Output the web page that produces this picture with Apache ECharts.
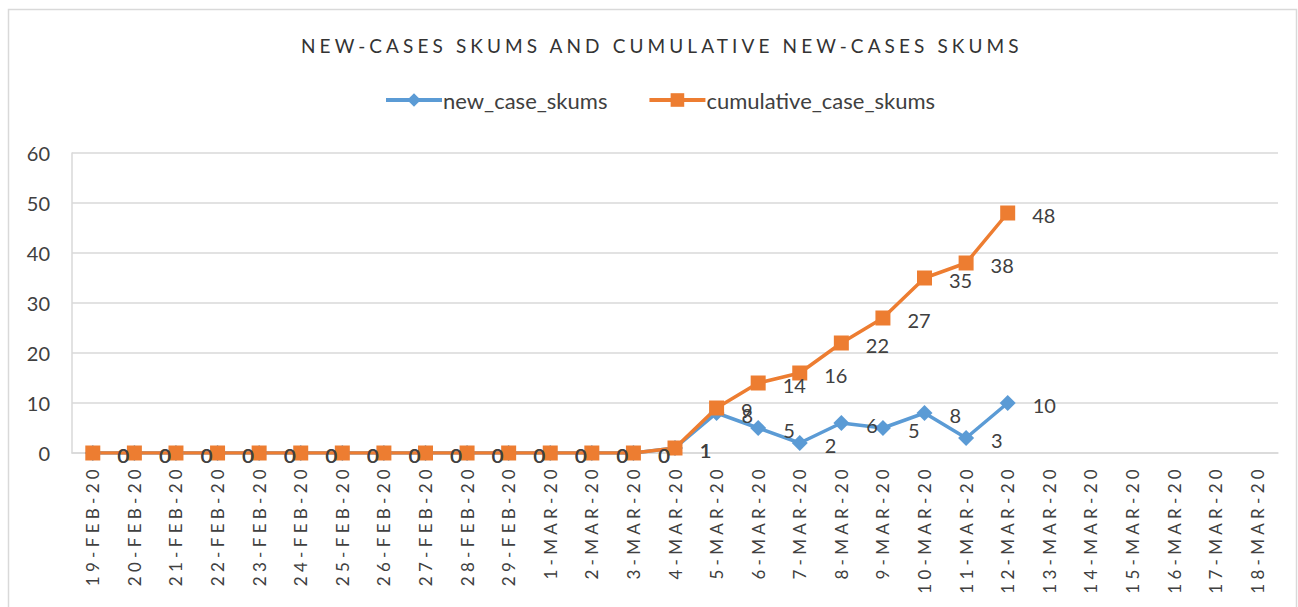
<!DOCTYPE html>
<html>
<head>
<meta charset="utf-8">
<script src="https://cdn.jsdelivr.net/npm/echarts@6/dist/echarts.min.js"></script>
<style>
  html, body { margin: 0; padding: 0; background: #fff; }
  #chart { width: 1298px; height: 607px; }
  /* letter-spaced texts are tagged through a dummy family name */
  #chart text[style*="spacedtitle"] { letter-spacing: 4.1px; }
  #chart text[style*="spacedaxis"] { letter-spacing: 4.3px; }
</style>
</head>
<body>
<div id="chart"></div>
<script>
const categories = [
  '19-FEB-20', '20-FEB-20', '21-FEB-20', '22-FEB-20', '23-FEB-20', '24-FEB-20',
  '25-FEB-20', '26-FEB-20', '27-FEB-20', '28-FEB-20', '29-FEB-20',
  '1-MAR-20', '2-MAR-20', '3-MAR-20', '4-MAR-20', '5-MAR-20', '6-MAR-20',
  '7-MAR-20', '8-MAR-20', '9-MAR-20', '10-MAR-20', '11-MAR-20', '12-MAR-20',
  '13-MAR-20', '14-MAR-20', '15-MAR-20', '16-MAR-20', '17-MAR-20', '18-MAR-20'
];
const newCases = [
  0, 0, 0, 0, 0, 0, 0, 0, 0, 0, 0, 0, 0, 0,
  1, 8, 5, 2, 6, 5, 8, 3, 10,
  null, null, null, null, null, null
];
const cumulativeCases = [
  0, 0, 0, 0, 0, 0, 0, 0, 0, 0, 0, 0, 0, 0,
  1, 9, 14, 16, 22, 27, 35, 38, 48,
  null, null, null, null, null, null
];
const yTicks = {min: 0, max: 60, interval: 10};

const font = 'Lato, "Liberation Sans", sans-serif';

const myEcharts = echarts.init(document.getElementById('chart'), null, {renderer: 'svg'});

const labelStyle = {
  show: true,
  position: 'right',
  distance: 17,
  offset: [0, 2],
  color: '#404040',
  fontSize: 20,
  fontFamily: font
};

myEcharts.setOption({
  animation: false,
  title: {
    text: 'NEW-CASES SKUMS AND CUMULATIVE NEW-CASES SKUMS',
    left: 296,
    top: 31,
    textStyle: {
      fontSize: 19,
      fontWeight: 'normal',
      color: '#333333',
      fontFamily: 'Lato, spacedtitle'
    }
  },
  legend: {
    left: 379,
    top: 84,
    itemWidth: 56,
    itemHeight: 17,
    itemGap: 40,
    lineStyle: {width: 4},
    textStyle: {fontSize: 22, color: '#404040', fontFamily: font, padding: [0, 0, 0, -4]},
    data: ['new_case_skums', 'cumulative_case_skums']
  },
  graphic: [{
    type: 'rect',
    silent: true,
    shape: {x: 8.5, y: 9.5, width: 1288, height: 700},
    style: {fill: 'none', stroke: '#d9d9d9', lineWidth: 1.5}
  }],
  grid: {
    left: 72,
    right: 20,
    top: 153,
    bottom: 154,
    containLabel: false
  },
  xAxis: {
    type: 'category',
    data: categories,
    boundaryGap: true,
    axisLine: {lineStyle: {color: '#d9d9d9', width: 1.5}},
    axisTick: {show: false},
    axisLabel: {
      interval: 0,
      rotate: 90,
      margin: 12,
      fontSize: 17,
      color: '#404040',
      fontFamily: 'Lato, spacedaxis'
    }
  },
  yAxis: {
    type: 'value',
    min: yTicks.min,
    max: yTicks.max,
    interval: yTicks.interval,
    axisLine: {show: true, lineStyle: {color: '#d9d9d9', width: 1.5}},
    axisTick: {show: false},
    axisLabel: {
      margin: 22,
      fontSize: 20,
      color: '#404040',
      fontFamily: font
    },
    splitLine: {lineStyle: {color: '#d9d9d9', width: 1.5}}
  },
  series: [
    {
      name: 'new_case_skums',
      type: 'line',
      data: newCases,
      symbol: 'diamond',
      symbolSize: 16,
      showAllSymbol: true,
      lineStyle: {color: '#5b9bd5', width: 3.5},
      itemStyle: {color: '#5b9bd5'},
      label: labelStyle
    },
    {
      name: 'cumulative_case_skums',
      type: 'line',
      data: cumulativeCases,
      symbol: 'rect',
      symbolSize: 15,
      showAllSymbol: true,
      lineStyle: {color: '#ed7d31', width: 3.5},
      itemStyle: {color: '#ed7d31'},
      label: labelStyle
    }
  ]
});
</script>
</body>
</html>
